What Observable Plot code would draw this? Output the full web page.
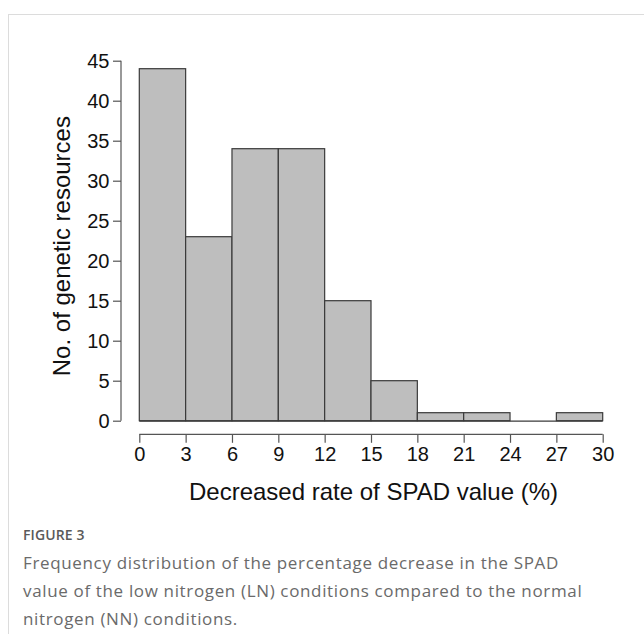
<!DOCTYPE html>
<html>
<head>
<meta charset="utf-8">
<script src="https://cdn.jsdelivr.net/npm/d3@7"></script>
<script src="https://cdn.jsdelivr.net/npm/@observablehq/plot@0.6"></script>
<style>
  html, body { margin: 0; padding: 0; background: #fff; }
  body { width: 644px; height: 634px; position: relative; overflow: hidden; }
  #frame { position: absolute; left: 8px; top: 14px; width: 640px; height: 630px;
           border-top: 1px solid #dcdcdc; border-left: 1px solid #dcdcdc; }
  #chart { position: absolute; left: 0; top: 0; }
  #caption { position: absolute; left: 23px; top: 525px; font-family: "Open Sans", sans-serif;
             color: #6a6a6a; white-space: nowrap; }
  #caption .fig { font-size: 14px; font-weight: 600; color: #5a5a5a; letter-spacing: 0.1px; line-height: 20px; }
  #caption .txt { font-size: 17px; letter-spacing: 0.65px; line-height: 28px; margin-top: 4px; }
</style>
</head>
<body>
<div id="frame"></div>
<div id="chart"></div>
<div id="caption">
  <div class="fig">FIGURE 3</div>
  <div class="txt">Frequency distribution of the percentage decrease in the SPAD<br>value of the low nitrogen (LN) conditions compared to the normal<br>nitrogen (NN) conditions.</div>
</div>
<script>
const binStart = [0, 3, 6, 9, 12, 15, 18, 21, 24, 27];
const binEnd   = [3, 6, 9, 12, 15, 18, 21, 24, 27, 30];
const counts   = [44, 23, 34, 34, 15, 5, 1, 1, 0, 1];
const xTicks = [0, 3, 6, 9, 12, 15, 18, 21, 24, 27, 30];
const yTicks = [0, 5, 10, 15, 20, 25, 30, 35, 40, 45];
const xTitle = "Decreased rate of SPAD value (%)";
const yTitle = "No. of genetic resources";

const bins = binStart.map((s, i) => ({x1: s, x2: binEnd[i], count: counts[i]}));

const font = "'Liberation Sans', Arial, Helvetica, sans-serif";
const axisGrey = "#555";

// axis spines drawn through the scales
const spines = (index, scales, values, dims) => {
  const g = d3.create("svg:g").attr("stroke", axisGrey).attr("fill", "none").attr("stroke-width", 1.2);
  const yb = dims.height - dims.marginBottom;
  g.append("line")
    .attr("x1", scales.x(xTicks[0])).attr("x2", scales.x(xTicks[xTicks.length - 1]))
    .attr("y1", yb).attr("y2", yb);
  g.append("line")
    .attr("x1", dims.marginLeft).attr("x2", dims.marginLeft)
    .attr("y1", scales.y(yTicks[0])).attr("y2", scales.y(yTicks[yTicks.length - 1]));
  return g.node();
};

const chart = Plot.plot({
  width: 644,
  height: 510,
  marginLeft: 121,
  marginRight: 41,
  marginTop: 47,
  marginBottom: 75.7,
  style: { fontFamily: font, color: "#111", background: "transparent" },
  x: { domain: [0, 30], range: [139.3, 602.7] },
  y: { domain: [0, 45], range: [420.7, 60.7] },
  marks: [
    Plot.rectY(bins, { x1: "x1", x2: "x2", y: "count", fill: "#bebebe", stroke: "#3a3a3a", strokeWidth: 1.2, inset: 0 }),
    Plot.ruleY([0], { x1: binStart[0], x2: binEnd[binEnd.length - 1], stroke: "#3a3a3a", strokeWidth: 1.2 }),
    Plot.axisX({ ticks: xTicks, tickSize: 8.5, tickPadding: 3, fontSize: 20, stroke: axisGrey, strokeWidth: 1.2, fill: "#111", label: null, tickFormat: d => String(d) }),
    Plot.axisY({ ticks: yTicks, tickSize: 8, tickPadding: 4, fontSize: 20, stroke: axisGrey, strokeWidth: 1.2, fill: "#111", label: null, tickFormat: d => String(d) }),
    spines,
    Plot.text([xTitle], { frameAnchor: "bottom", dx: 11, dy: 58, lineAnchor: "middle", textAnchor: "middle", fontSize: 24, fill: "#111", text: d => d }),
    Plot.text([yTitle], { frameAnchor: "left", dx: -59, dy: 5, rotate: -90, lineAnchor: "middle", textAnchor: "middle", fontSize: 24, fill: "#111", text: d => d })
  ]
});
document.getElementById("chart").appendChild(chart);
</script>
</body>
</html>
